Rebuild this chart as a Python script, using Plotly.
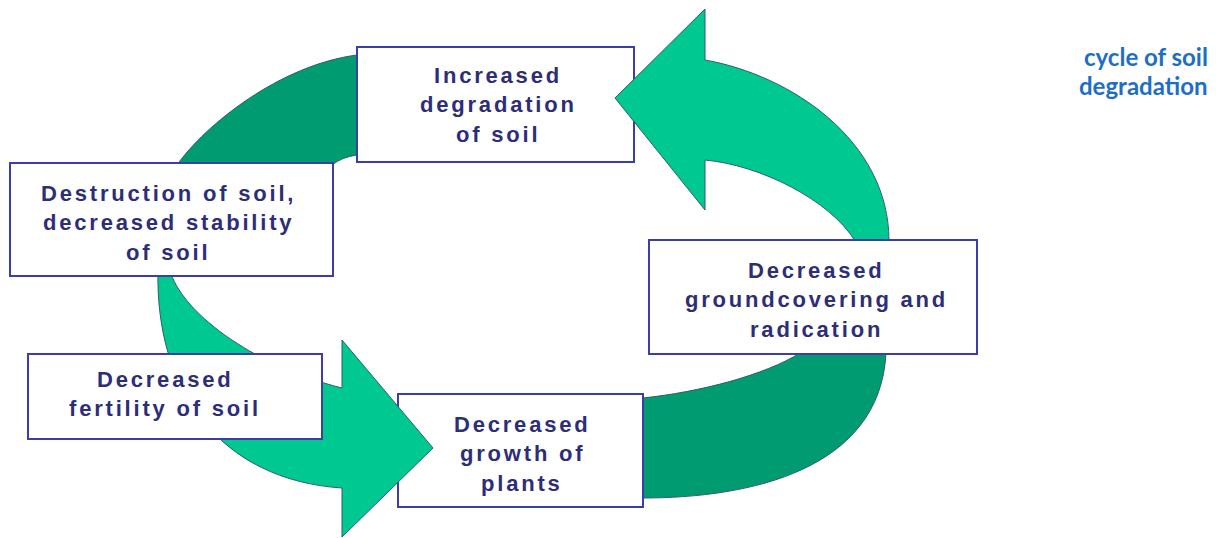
import plotly.graph_objects as go

# ---- content (text) ----
box_labels = [
    ["Increased", "degradation", "of soil"],
    ["Destruction of soil,", "decreased stability", "of soil"],
    ["Decreased", "fertility of soil"],
    ["Decreased", "growth of", "plants"],
    ["Decreased", "groundcovering and", "radication"],
]
title_lines = ["cycle of soil", "degradation"]

# ---- layout geometry (page pixels, y downwards) ----
W, H = 1220, 538
OFF = 8  # default page body margin
boxes = [  # x0, y0, x1, y1, text centre x, first-line centre y
    (357, 47, 634, 162, 498, 75),
    (10, 163, 333, 276, 168, 193),
    (28, 354, 322, 439, 165, 379),
    (398, 394, 643, 507, 522, 424),
    (649, 240, 977, 354, 816, 270),
]
PITCH = 29.5

LIGHT = "#00C891"
DARK = "#009B70"
EDGE = "#2D5F6E"
BOX_LINE = "#3C3CAA"
TEXT = "#2D2D78"

paths = {
    "dark_tl": "M 175,175 L 177,165 C 205,125 280,65 357,55 L 370,55 L 370,155 L 357,155 "
               "Q 342,157 332,165 L 332,175 Z",
    "dark_br": "M 889,250 L 886,353 C 880,470 750,498 643,498 L 630,498 L 630,398 L 643,398 "
               "C 700,392 765,375 800,353 L 855,250 Z",
    "arrow_up": "M 615,98 L 705,9 L 705,60 C 790,75 889,140 889,241 L 855,241 "
                "C 830,200 760,165 705,160 L 705,210 Z",
    "arrow_down": "M 158,270 C 155,390 220,480 342,488 L 342,537 L 433,448 L 342,340 L 342,388 "
                  "C 250,365 180,310 170,270 Z",
}

def path_shape(p, color):
    return dict(type="path", path=p, fillcolor=color, line=dict(color=EDGE, width=1),
                xref="x", yref="y", layer="above")

def box_shape(b):
    x0, y0, x1, y1 = b[:4]
    return dict(type="rect", x0=x0, y0=y0, x1=x1, y1=y1, fillcolor="white",
                line=dict(color=BOX_LINE, width=2), xref="x", yref="y", layer="above")

shapes = [
    path_shape(paths["dark_tl"], DARK),
    path_shape(paths["dark_br"], DARK),
    box_shape(boxes[0]),
    box_shape(boxes[3]),
    path_shape(paths["arrow_up"], LIGHT),
    path_shape(paths["arrow_down"], LIGHT),
    box_shape(boxes[1]),
    box_shape(boxes[2]),
    box_shape(boxes[4]),
]

annotations = []
for b, lines in zip(boxes, box_labels):
    cx, cy = b[4], b[5]
    for i, line in enumerate(lines):
        annotations.append(dict(
            x=cx, y=cy + i * PITCH, xref="x", yref="y", showarrow=False,
            xanchor="center", yanchor="middle",
            text=f'<span style="letter-spacing:2.8px">{line}</span>',
            font=dict(family="Liberation Sans, Arial, sans-serif", size=22, color=TEXT, weight="bold"),
        ))

for i, line in enumerate(title_lines):
    annotations.append(dict(
        x=1210, y=56 + i * 29, xref="x", yref="y", showarrow=False,
        xanchor="right", yanchor="middle", text=f"<b>{line}</b>",
        font=dict(family="Lato, Open Sans, sans-serif", size=24, color="#1E6FC4"),
    ))

fig = go.Figure()
fig.add_trace(go.Scatter(x=[OFF, W], y=[OFF, H], mode="markers", marker=dict(opacity=0),
                         hoverinfo="skip", showlegend=False))
fig.update_layout(
    width=W - OFF, height=H - OFF, margin=dict(l=0, r=0, t=0, b=0),
    paper_bgcolor="white", plot_bgcolor="white",
    xaxis=dict(range=[OFF, W], visible=False, fixedrange=True),
    yaxis=dict(range=[H, OFF], visible=False, fixedrange=True),
    shapes=shapes, annotations=annotations, showlegend=False,
)
fig.write_html("out.html")
